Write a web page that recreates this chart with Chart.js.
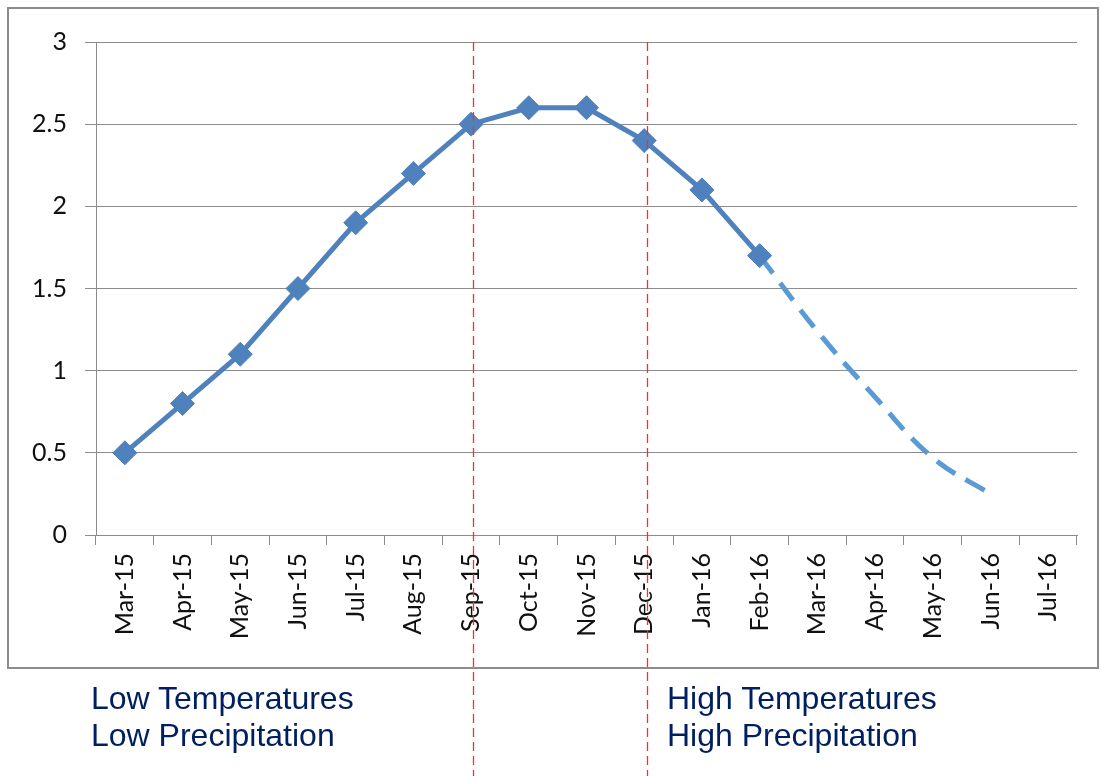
<!DOCTYPE html>
<html>
<head>
<meta charset="utf-8">
<script src="https://cdn.jsdelivr.net/npm/chart.js@4/dist/chart.umd.min.js"></script>
<style>
    html, body { margin: 0; padding: 0; background: #fff; }
    #wrap { position: relative; width: 1101px; height: 776px; overflow: hidden; }
    #frame { position: absolute; left: 7px; top: 7px; width: 1088px; height: 658px; border: 2px solid #8c8c8c; }
    #chart { position: absolute; left: 0; top: 0; }
    .note { position: absolute; font-family: "Liberation Sans", Arial, sans-serif; font-size: 32px; line-height: 37px; color: #001f5f; white-space: nowrap; }
</style>
</head>
<body>
<div id="wrap">
    <div id="frame"></div>
    <canvas id="chart" width="1101" height="776"></canvas>
    <div class="note" style="left:91px; top:680px;">Low Temperatures<br>Low Precipitation</div>
    <div class="note" style="left:667px; top:680px;">High Temperatures<br>High Precipitation</div>
</div>
<script>
// categories (months)
const months = ['Mar-15', 'Apr-15', 'May-15', 'Jun-15', 'Jul-15', 'Aug-15', 'Sep-15',
    'Oct-15', 'Nov-15', 'Dec-15', 'Jan-16', 'Feb-16', 'Mar-16', 'Apr-16', 'May-16', 'Jun-16', 'Jul-16'];

// observed values (solid line with diamonds)
const observed = [0.5, 0.8, 1.1, 1.5, 1.9, 2.2, 2.5, 2.6, 2.6, 2.4, 2.1, 1.7, null, null, null, null, null];

// projected values (dashed curve)
const projected = [null, null, null, null, null, null, null, null, null, null, null, 1.7, 1.24, 0.84, 0.47, 0.25, null];

// y axis ticks
const yMin = 0;
const yMax = 3;
const yStep = 0.5;

// months where the red dividers sit
const dividerMonths = ['Sep-15', 'Dec-15'];

// red dashed dividers, drawn from the top of the plot to the bottom of the page
const regionLines = {
    id: 'regionLines',
    afterDatasetsDraw(chart) {
        const { ctx, chartArea } = chart;
        const x = chart.scales.x;
        ctx.save();
        ctx.strokeStyle = '#ff2a2a';
        ctx.lineWidth = 1.3;
        ctx.setLineDash([9, 5]);
        dividerMonths.forEach(m => {
            const px = Math.round(x.getPixelForValue(months.indexOf(m) + 0.04)) + 0.5;
            ctx.beginPath();
            ctx.moveTo(px, chartArea.top);
            ctx.lineTo(px, chart.height);
            ctx.stroke();
        });
        ctx.restore();
    }
};

const tickFont = { family: 'Lato', size: 25 };

new Chart(document.getElementById('chart').getContext('2d'), {
    type: 'line',
    data: {
        labels: months,
        datasets: [
            {
                label: 'Observed',
                data: observed,
                borderColor: '#4f81bd',
                backgroundColor: '#4f81bd',
                borderWidth: 5,
                tension: 0,
                pointStyle: 'rectRot',
                pointRadius: 12,
                pointBorderWidth: 1,
                pointBackgroundColor: '#4f81bd',
                pointBorderColor: '#4f81bd',
                spanGaps: false
            },
            {
                label: 'Projected',
                data: projected,
                borderColor: '#5b9bd5',
                borderWidth: 5,
                borderDash: [22, 12],
                tension: 0.4,
                pointRadius: 0,
                spanGaps: false
            }
        ]
    },
    options: {
        responsive: false,
        animation: false,
        layout: { padding: { top: 42, right: 24, left: 0, bottom: 0 } },
        plugins: {
            legend: { display: false },
            tooltip: { enabled: false }
        },
        scales: {
            y: {
                min: yMin,
                max: yMax,
                ticks: {
                    stepSize: yStep,
                    color: '#111',
                    font: tickFont,
                    padding: 18,
                    callback: v => String(v)
                },
                grid: { color: '#8c8c8c', lineWidth: 1, tickLength: 11 },
                border: { color: '#8c8c8c' },
                afterFit(s) { s.width = 96; }
            },
            x: {
                offset: true,
                grid: { offset: true, drawOnChartArea: false, color: '#8c8c8c', tickLength: 10 },
                border: { color: '#8c8c8c' },
                ticks: { minRotation: 90, maxRotation: 90, autoSkip: false, padding: 8, color: '#111', font: tickFont },
                afterFit(s) { s.height = 241; }
            }
        }
    },
    plugins: [regionLines]
});
</script>
</body>
</html>
